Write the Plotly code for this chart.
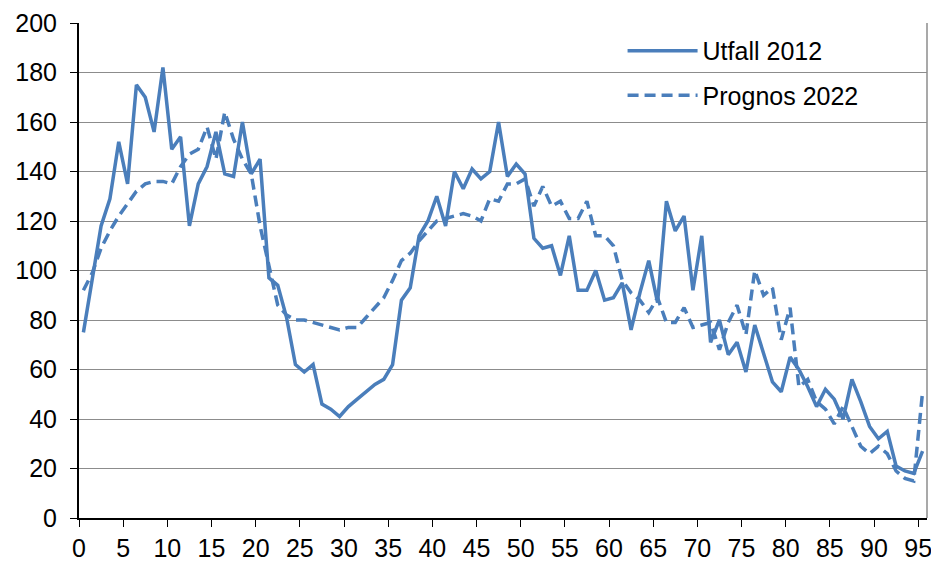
import plotly.graph_objects as go

ages = list(range(96))

utfall_2012 = [75, 97, 118, 129, 152, 135, 175, 170, 156, 182,
               149, 154, 118, 135, 142, 156, 139, 138, 160, 139,
               145, 97, 94, 81, 62, 59, 62, 46, 44, 41,
               45, 48, 51, 54, 56, 62, 88, 93, 114, 120,
               130, 118, 140, 133, 141, 137, 140, 160, 138, 143,
               139, 113, 109, 110, 98, 114, 92, 92, 100, 88,
               89, 95, 76, 91, 104, 87, 128, 116, 122, 92,
               114, 71, 80, 66, 71, 59, 78, 67, 55, 51,
               65, 60, 53, 45, 52, 48, 40, 56, 47, 37,
               32, 35, 21, 19, 18, 27]

prognos_2022 = [92, 99, 109, 116, 122, 127, 132, 135, 136, 136,
                135, 142, 147, 149, 158, 145, 164, 153, 145, 139,
                118, 102, 86, 82, 80, 80, 79, 78, 77, 76,
                77, 77, 81, 85, 89, 96, 104, 107, 112, 116,
                120, 121, 122, 123, 122, 120, 129, 128, 135, 135,
                137, 126, 134, 126, 128, 121, 121, 128, 114, 114,
                110, 96, 91, 88, 83, 89, 79, 79, 85, 77,
                78, 79, 68, 79, 86, 74, 100, 90, 93, 72,
                85, 53, 56, 47, 44, 38, 45, 37, 29, 26,
                29, 26, 19, 16, 15, 51]

x_tick_labels = [str(v) for v in range(0, 96, 5)]
y_tick_values = list(range(0, 201, 20))

BLUE = "#4A7EBB"
FONT = "Liberation Sans, Arial, sans-serif"

fig = go.Figure()
fig.add_trace(go.Scatter(x=ages, y=utfall_2012, mode="lines", name="Utfall 2012",
                         legendgroup="a",
                         line=dict(color=BLUE, width=3.5)))
fig.add_trace(go.Scatter(x=ages, y=prognos_2022, mode="lines", name="Prognos 2022",
                         legendgroup="b",
                         line=dict(color=BLUE, width=3.5, dash="11px,6px")))

fig.update_layout(
    width=939, height=563,
    margin=dict(l=71, r=20, t=15, b=53),
    paper_bgcolor="white", plot_bgcolor="white",
    font=dict(family=FONT, size=25, color="black"),
    showlegend=True,
    legend=dict(x=0.641, y=0.99, xanchor="left", yanchor="top",
                bgcolor="rgba(0,0,0,0)", font=dict(size=25),
                tracegroupgap=9, itemwidth=70),
    shapes=[
        dict(type="rect", xref="paper", yref="paper", x0=0.597, x1=0.965,
             y0=0.824, y1=0.966, fillcolor="white", line=dict(width=0), layer="between"),
        dict(type="line", xref="paper", yref="paper", x0=1, x1=1, y0=0, y1=1,
             line=dict(color="#8c8c8c", width=1.5)),
    ],
)

fig.update_xaxes(
    range=[-0.5, 95.5],
    tickvals=[int(t) - 0.5 for t in x_tick_labels],
    ticktext=x_tick_labels,
    ticks="outside", ticklen=7, tickcolor="black", tickwidth=1,
    showline=True, linecolor="black", linewidth=1.5,
    showgrid=False, zeroline=False, automargin=False,
    tickfont=dict(size=25, family=FONT),
)
fig.update_yaxes(
    range=[0, 200],
    tickvals=y_tick_values,
    ticks="outside", ticklen=7, tickcolor="black", tickwidth=1,
    showline=True, linecolor="black", linewidth=2,
    showgrid=True, gridcolor="#8c8c8c", gridwidth=1,
    zeroline=False, automargin=False,
    tickfont=dict(size=25, family=FONT),
    ticklabelstandoff=8,
)

fig.write_html("out.html")
